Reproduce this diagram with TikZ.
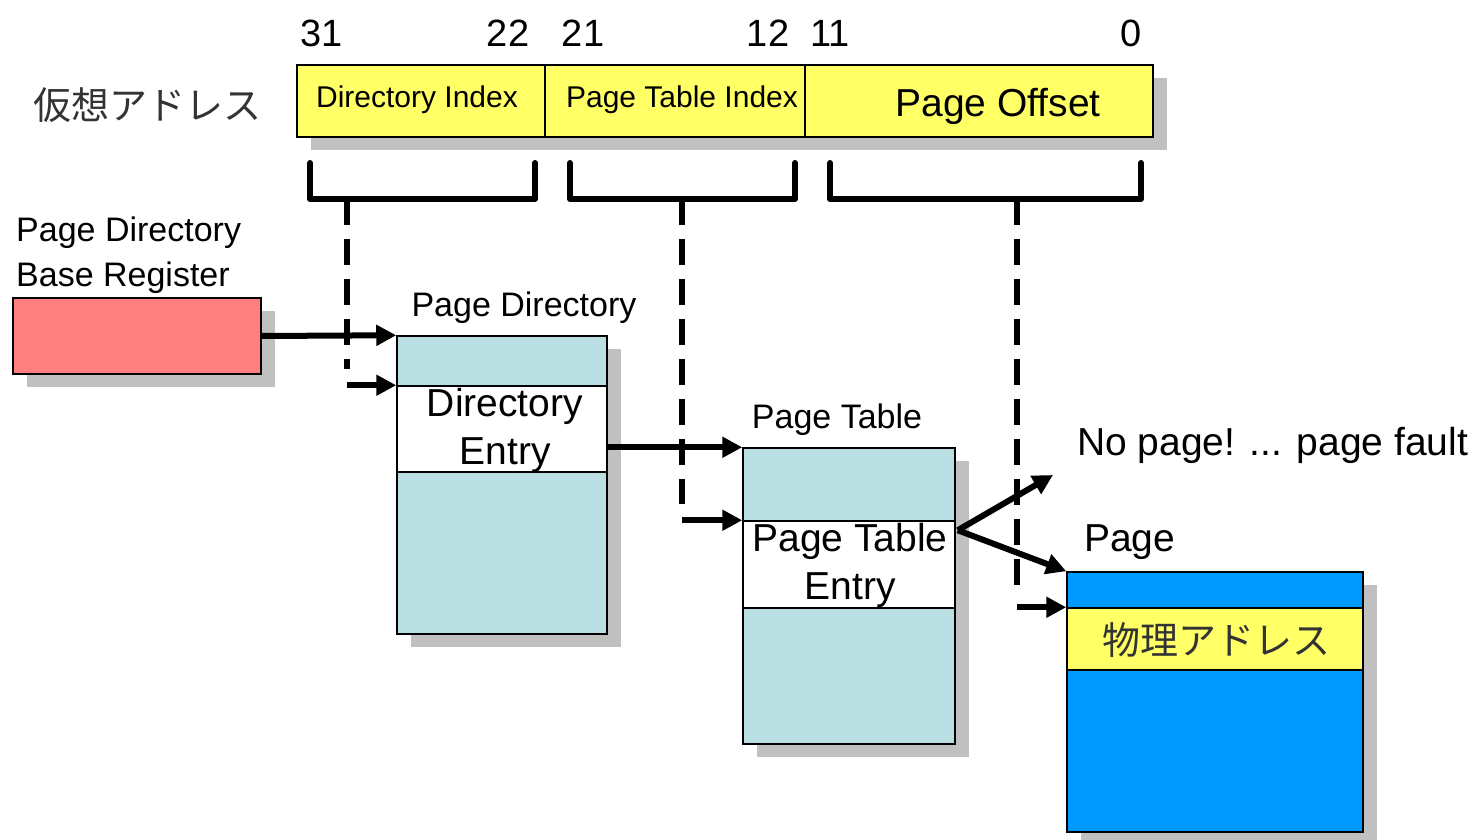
\documentclass[tikz,border=0pt]{standalone}
\usepackage{fontspec}
\setmainfont{Liberation Sans}
\newfontfamily\jpfont{Noto Sans CJK JP}
\usepackage{tikz}
\usetikzlibrary{arrows.meta,positioning,calc,shadows}
\definecolor{addryellow}{HTML}{FFFF66}
\definecolor{regred}{HTML}{FF7F7F}
\definecolor{tblblue}{HTML}{BADFE3}
\definecolor{pageblue}{HTML}{0099FF}
\definecolor{shadowgray}{HTML}{C0C0C0}

\begin{document}
\begin{tikzpicture}[
    x=1pt, y=-1pt,
    shadowed/.style={drop shadow={shadow xshift=14pt, shadow yshift=-13pt, fill=shadowgray, opacity=1}},
    box/.style={draw, line width=1.5pt, inner sep=0pt, shadowed},
    field/.style={box, fill=addryellow, minimum height=72pt},
    band/.style={draw, line width=1.5pt, inner sep=0pt},
    thin/.style={font=\fontsize{34}{41}\selectfont, inner sep=0pt},
    idx/.style={font=\fontsize{30}{36}\selectfont, inner sep=0pt},
    big/.style={font=\fontsize{39}{46}\selectfont, inner sep=0pt},
    bitno/.style={font=\fontsize{38}{40}\selectfont, inner sep=0pt},
    jp/.style={font=\jpfont\fontsize{38}{40}\selectfont, inner sep=0pt, text=black!80},
    brk/.style={line width=6pt, line cap=round, line join=round},
    dashline/.style={line width=6pt, dash pattern=on 26pt off 14pt, shorten >=16pt},
    arr/.style={line width=6pt, -{Triangle[length=20pt,width=20pt]}}
]
\useasboundingbox (0,0) rectangle (1472,840);

% virtual address
\node[jp] (vaLbl) at (147,105) {仮想アドレス};
\node[field, minimum width=248pt] (dirIdx) at (421,101) {};
\node[idx] at (417,100) {Directory Index};
\node[field, minimum width=260pt] (ptIdx) at (675,101) {};
\node[idx] at (682,100) {Page Table Index};
\node[field, minimum width=348pt] (offs) at (979,101) {};
\node[big] (offsLbl) at (998,106) {Page Offset};
\foreach \n/\x in {31/322, 22/508, 21/583, 12/768, 11/830, 0/1131} {
    \node[bitno] (bit\n) at (\x,33) {\n};
}

% brackets under the fields
\foreach \i/\a/\b/\m in {1/310/535/347, 2/570/795/682, 3/830/1141/1017} {
    \draw[brk] (\a,163) -- (\a,199) -- (\b,199) -- (\b,163);
    \coordinate (stem\i) at (\m,199);
}

% page directory base register
\node[box, fill=regred, minimum width=248pt, minimum height=76pt] (pdbr) at (137,336) {};
\node[thin, anchor=west, align=left] (pdbrLbl) at (16,255) {Page Directory\\[4pt]Base Register};

% page directory
\node[box, fill=tblblue, minimum width=210pt, minimum height=298pt] (pd) at (502,485) {};
\node[band, fill=white, minimum width=210pt, minimum height=86pt] (pde) at (502,429) {};
\node[big, align=center] at (505,430) {Directory\\[2pt]Entry};
\node[thin] (pdLbl) at (524,308) {Page Directory};

% page table
\node[box, fill=tblblue, minimum width=212pt, minimum height=296pt] (pt) at (849,596) {};
\node[band, fill=white, minimum width=212pt, minimum height=87pt] (pte) at (849,564.5) {};
\node[big, align=center] at (850,565) {Page Table\\[2pt]Entry};
\node[thin] (ptLbl) at (837,420) {Page Table};

% page
\node[box, fill=pageblue, minimum width=296pt, minimum height=260pt] (pg) at (1215,702) {};
\node[band, fill=addryellow, minimum width=296pt, minimum height=62pt] (pa) at (1215,639) {};
\node[jp] at (1216,640) {物理アドレス};
\node[big, anchor=west] (pgLbl) at (1084,542) {Page};
\node[big, anchor=west] (faultLbl) at (1077,445) {No page! ... page fault};

% index lines
\draw[dashline] (stem1) -- (stem1 |- pde.north west);
\draw[dashline] (stem2) -- (stem2 |- pte.north west);
\draw[dashline] (stem3) -- (stem3 |- pa.north west);

% arrows
\draw[arr] (pdbr.east) -- (pd.north west);
\draw[arr] (stem1 |- pde.north west) -- (pde.north west);
\draw[arr] (pt.north west -| pde.east) -- (pt.north west);
\draw[arr] (stem2 |- pte.north west) -- (pte.north west);
\coordinate (fork) at ($(pte.north east)+(2,10)$);
\coordinate (fault) at (1053,475);
\draw[arr] (fork) -- (fault);
\draw[arr] (fork) -- (pg.north west);
\draw[arr] (stem3 |- pa.north west) -- (pa.north west);
\end{tikzpicture}
\end{document}
